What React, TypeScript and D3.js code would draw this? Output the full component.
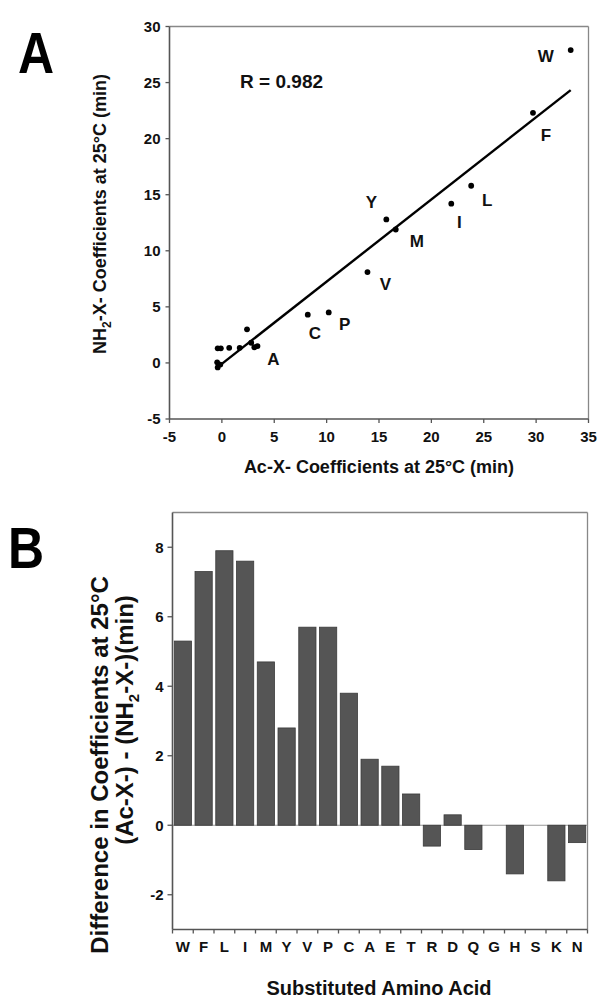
import React from 'react';
import * as d3 from 'd3';

// ---------- Data ----------
const aminoAcids = ['W', 'F', 'L', 'I', 'M', 'Y', 'V', 'P', 'C', 'A', 'E', 'T', 'R', 'D', 'Q', 'G', 'H', 'S', 'K', 'N'];
// Panel A: Ac-X- coefficients (x) and NH2-X- coefficients (y), min
const acCoefficients = [33.3, 29.7, 23.8, 21.9, 16.6, 15.7, 13.9, 10.2, 8.2, 3.4, 3.1, 2.8, 2.4, 1.7, 0.7, -0.15, -0.1, -0.4, -0.4, -0.45];
const nh2Coefficients = [27.9, 22.3, 15.8, 14.2, 11.9, 12.8, 8.1, 4.5, 4.3, 1.5, 1.4, 1.8, 3.0, 1.35, 1.35, -0.15, 1.3, -0.4, 1.3, 0.05];
const labeledAcids = ['W', 'F', 'L', 'I', 'M', 'Y', 'V', 'P', 'C', 'A'];
const labelDx = [-25, 13, 16, 8, 21, -15, 18, 16, 7, 16];
const labelDy = [6, 22, 14, 18, 12, -17, 12, 12, 18, 13];
const scatterXTicks = [-5, 0, 5, 10, 15, 20, 25, 30, 35];
const scatterYTicks = [-5, 0, 5, 10, 15, 20, 25, 30];
const fitSlope = 0.733;
const fitIntercept = -0.08;
const fitXRange = [-0.4, 33.3];
const correlationText = 'R = 0.982';
const correlationPos = [5.7, 25.1];

// Panel B: (Ac-X-) - (NH2-X-) difference, min
const differences = [5.3, 7.3, 7.9, 7.6, 4.7, 2.8, 5.7, 5.7, 3.8, 1.9, 1.7, 0.9, -0.6, 0.3, -0.7, 0, -1.4, 0, -1.6, -0.5];
const barYTicks = [-2, 0, 2, 4, 6, 8];

const FONT = "'Liberation Sans', Arial, Helvetica, sans-serif";

export default function App() {
  // Panel A scales
  const xA = d3.scaleLinear().domain([-5, 35]).range([169.5, 588.5]);
  const yA = d3.scaleLinear().domain([-5, 30]).range([419, 26.5]);
  // Panel B scales
  const xB = d3.scaleBand<string>().domain(aminoAcids).range([172.5, 587.5]).paddingInner(0.17).paddingOuter(0.085);
  const yB = d3.scaleLinear().domain([-3, 9]).range([929.5, 512.5]);
  const stepB = xB.step();

  const fitLine = d3.line<number>().x((d) => xA(d)).y((d) => yA(fitSlope * d + fitIntercept));

  const [ax0, ax1] = xA.range();
  const [ay0, ay1] = yA.range(); // bottom, top
  const [bx0, bx1] = xB.range();
  const by0 = yB(-3);
  const by1 = yB(9);

  return (
    <svg width={606} height={1007} style={{ position: 'absolute', left: 0, top: 0, background: '#fff' }} fontFamily={FONT}>
      <rect x={0} y={0} width={606} height={1007} fill="#fff" />

      {/* ===== Panel A ===== */}
      <text transform="translate(18,73) scale(1,1.15)" fontSize={50} fontWeight="bold" fill="#000">A</text>

      {/* frame */}
      <line x1={ax0} x2={ax1} y1={ay1} y2={ay1} stroke="#888" strokeWidth={1.3} />
      <line x1={ax1} x2={ax1} y1={ay1} y2={ay0} stroke="#888" strokeWidth={1.3} />
      <line x1={ax0} x2={ax0} y1={ay1} y2={ay0} stroke="#555" strokeWidth={1.6} />
      <line x1={ax0} x2={ax1} y1={ay0} y2={ay0} stroke="#555" strokeWidth={1.6} />

      {scatterYTicks.map((t) => (
        <g key={'ya' + t}>
          <line x1={ax0 - 4} x2={ax0} y1={yA(t)} y2={yA(t)} stroke="#555" strokeWidth={1.3} />
          <text x={ax0 - 9} y={yA(t)} dy="0.35em" textAnchor="end" fontSize={15} fontWeight="bold" fill="#111">{t}</text>
        </g>
      ))}
      {scatterXTicks.map((t) => (
        <g key={'xa' + t}>
          <line x1={xA(t)} x2={xA(t)} y1={ay0} y2={ay0 + 4} stroke="#555" strokeWidth={1.3} />
          <text x={xA(t)} y={437} dy="0.35em" textAnchor="middle" fontSize={15} fontWeight="bold" fill="#111">{t}</text>
        </g>
      ))}

      <text x={379} y={467} dy="0.35em" textAnchor="middle" fontSize={18} fontWeight="bold" fill="#111">
        Ac-X- Coefficients at 25°C (min)
      </text>
      <text transform="translate(100,214) rotate(-90)" textAnchor="middle" dy="0.35em" fontSize={18} fontWeight="bold" fill="#111">
        NH<tspan fontSize={12} dy="5">2</tspan><tspan dy="-5">-X- Coefficients at 25°C (min)</tspan>
      </text>

      <path d={fitLine(fitXRange) || ''} fill="none" stroke="#000" strokeWidth={2.4} />

      {aminoAcids.map((a, i) => (
        <circle key={'pt' + a} cx={xA(acCoefficients[i])} cy={yA(nh2Coefficients[i])} r={2.9} fill="#000" />
      ))}
      {labeledAcids.map((a, i) => {
        const idx = aminoAcids.indexOf(a);
        return (
          <text key={'lbl' + a} x={xA(acCoefficients[idx]) + labelDx[i]} y={yA(nh2Coefficients[idx]) + labelDy[i]} dy="0.35em"
            textAnchor="middle" fontSize={17} fontWeight="bold" fill="#111">{a}</text>
        );
      })}
      <text x={xA(correlationPos[0])} y={yA(correlationPos[1])} dy="0.35em" textAnchor="middle" fontSize={19} fontWeight="bold" fill="#111">
        {correlationText}
      </text>

      {/* ===== Panel B ===== */}
      <text transform="translate(8,568) scale(1,1.15)" fontSize={50} fontWeight="bold" fill="#000">B</text>

      <line x1={bx0} x2={bx1} y1={by1} y2={by1} stroke="#888" strokeWidth={1.3} />
      <line x1={bx1} x2={bx1} y1={by1} y2={by0} stroke="#888" strokeWidth={1.3} />
      <line x1={bx0} x2={bx1} y1={yB(0)} y2={yB(0)} stroke="#999" strokeWidth={1} />

      {aminoAcids.map((a, i) => {
        const v = differences[i];
        const y0 = yB(Math.max(0, v));
        const h = Math.abs(yB(v) - yB(0));
        return <rect key={'bar' + a} x={xB(a)} y={y0} width={xB.bandwidth()} height={h} fill="#555" stroke="#3a3a3a" strokeWidth={0.8} />;
      })}

      <line x1={bx0} x2={bx0} y1={by1} y2={by0} stroke="#555" strokeWidth={1.6} />
      <line x1={bx0} x2={bx1} y1={by0} y2={by0} stroke="#555" strokeWidth={1.6} />

      {barYTicks.map((t) => (
        <g key={'yb' + t}>
          <line x1={bx0 - 5} x2={bx0} y1={yB(t)} y2={yB(t)} stroke="#555" strokeWidth={1.3} />
          <text x={bx0 - 9} y={yB(t)} dy="0.35em" textAnchor="end" fontSize={15} fontWeight="bold" fill="#111">{t}</text>
        </g>
      ))}
      {d3.range(aminoAcids.length + 1).map((i) => (
        <line key={'tb' + i} x1={bx0 + i * stepB} x2={bx0 + i * stepB} y1={by0} y2={by0 + 4} stroke="#555" strokeWidth={1.3} />
      ))}
      {aminoAcids.map((a) => (
        <text key={'xb' + a} x={(xB(a) || 0) + xB.bandwidth() / 2} y={947} dy="0.35em" textAnchor="middle" fontSize={15} fontWeight="bold" fill="#111">{a}</text>
      ))}

      <text x={379} y={988} dy="0.35em" textAnchor="middle" fontSize={20} fontWeight="bold" fill="#111">Substituted Amino Acid</text>
      <text transform="translate(100,765) rotate(-90)" textAnchor="middle" dy="0.35em" fontSize={24} fontWeight="bold" fill="#111">
        Difference in Coefficients at 25°C
      </text>
      <text transform="translate(125,720) rotate(-90)" textAnchor="middle" dy="0.35em" fontSize={24} fontWeight="bold" fill="#111">
        (Ac-X-) - (NH<tspan fontSize={15} dy="6">2</tspan><tspan dy="-6">-X-)(min)</tspan>
      </text>
    </svg>
  );
}
